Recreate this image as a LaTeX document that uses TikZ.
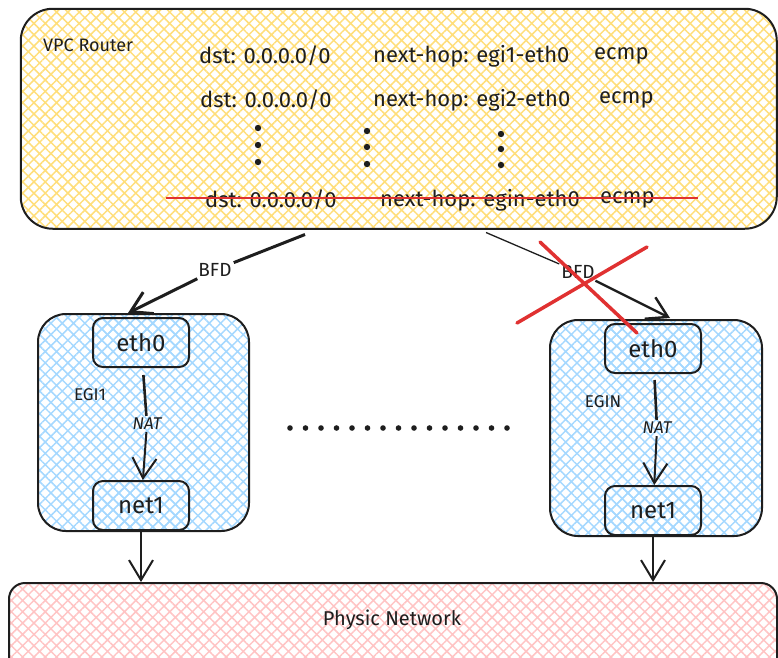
\documentclass[tikz,border=0pt]{standalone}
\usepackage{fontspec}
\setmainfont{Fira Sans}
\usetikzlibrary{arrows.meta,patterns.meta,calc}
\definecolor{ink}{HTML}{1E1E1E}
\definecolor{hyel}{HTML}{FFDE7A}
\definecolor{hblue}{HTML}{A5D8FF}
\definecolor{hred}{HTML}{FFC4C4}
\definecolor{xred}{HTML}{E03131}
\begin{document}
\begin{tikzpicture}[x=1pt,y=-1pt,
  outline/.style={draw=ink,line width=2pt},
  yelbox/.style={outline,rounded corners=32pt,pattern={Hatch[angle=45,distance=8pt,line width=1.5pt]},pattern color=hyel},
  bluebox/.style={outline,rounded corners=28pt,pattern={Hatch[angle=45,distance=8pt,line width=1.5pt]},pattern color=hblue},
  redbox/.style={outline,rounded corners=16pt,pattern={Hatch[angle=45,distance=8pt,line width=1.5pt]},pattern color=hred},
  port/.style={outline,rounded corners=10pt,pattern={Hatch[angle=45,distance=8pt,line width=1.5pt]},pattern color=hblue,
    minimum width=96pt,minimum height=49pt,inner sep=0pt,anchor=north west,text=ink,font=\fontsize{24}{26}\selectfont},
  rowtxt/.style={text=ink,font=\fontsize{22}{25}\selectfont,inner sep=0pt,anchor=west},
  lbl/.style={text=ink,font=\fontsize{19}{21}\selectfont,inner sep=2pt},
  small/.style={text=ink,font=\fontsize{17}{19}\selectfont,inner sep=2pt},
  barb/.style={-{Straight Barb[length=20pt,width=24pt]}},
  conn/.style={draw=ink,line width=2pt},
  strike/.style={draw=xred,line width=2pt},
  cross/.style={draw=xred,line width=3.5pt,line cap=round},
  dot/.style={fill=ink}
]
\useasboundingbox (0,0) rectangle (778,657);
\clip (0,0) rectangle (778,657);

% VPC router
\node[yelbox,minimum width=756pt,minimum height=220pt,anchor=north west] (router) at (20,8) {};
\node[rowtxt,font=\fontsize{18}{20}\selectfont] (title) at (43,45) {VPC Router};
\node[rowtxt] (r1a) at (199,56) {dst: 0.0.0.0/0};
\node[rowtxt] (r1b) at (373,56) {next-hop: egi1-eth0};
\node[rowtxt] (r1c) at (594,56) {ecmp};
\node[rowtxt] (r2a) at (200,100) {dst: 0.0.0.0/0};
\node[rowtxt] (r2b) at (373,100) {next-hop: egi2-eth0};
\node[rowtxt] (r2c) at (599,100) {ecmp};
\node[rowtxt] (r3a) at (205,200) {dst: 0.0.0.0/0};
\node[rowtxt] (r3b) at (380,200) {next-hop: egin-eth0};
\node[rowtxt] (r3c) at (600,200) {ecmp};
\draw[strike] ($(r3a.west)+(-39,-2)$) -- ($(r3c.east)+(43,-2)$);
\foreach \x/\y in {258/128,258/145,258/162,367/131,367/147,367/164,501/134,501/149,501/165}
  \fill[dot] (\x,\y) circle (3.2pt);

% EGI1
\node[bluebox,minimum width=211pt,minimum height=217pt,anchor=north west] (egi1) at (37,313) {};
\node[port] (e1eth) at (92,317) {eth0};
\node[port] (e1net) at (92,480) {net1};
\node[small] (e1lbl) at (90,395) {EGI1};
\node[small] (nat1) at (147,424) {\itshape NAT};
\draw[conn,line width=2.6pt,shorten <=7pt] (e1eth) -- (nat1);
\draw[conn,barb] (nat1) -- (e1net);

% EGIN
\node[bluebox,minimum width=212pt,minimum height=216pt,anchor=north west] (egin) at (549,319) {};
\node[port] (e2eth) at (604,323) {eth0};
\node[port] (e2net) at (604,485) {net1};
\node[small] (e2lbl) at (603,402) {EGIN};
\node[small] (nat2) at (657,428) {\itshape NAT};
\draw[conn,line width=2.6pt,shorten <=6pt] (e2eth) -- (nat2);
\draw[conn,barb] (nat2) -- (e2net);

% BFD connectors
\node[lbl] (bfd1) at (215,270) {BFD};
\draw[conn,line width=3pt] ($(router.south west)+(285,5)$) -- (bfd1);
\draw[conn,line width=3pt,barb] (bfd1) -- ($(egi1.north west)+(91,0)$);
\node[lbl] (bfd2) at (578,272) {BFD};
\draw[conn,line width=1.3pt] ($(router.south west)+(466,3)$) -- (bfd2);
\draw[conn,line width=2.4pt,barb] (bfd2) -- ($(egin.north west)+(121,-1)$);
\draw[cross] (540,242) -- (637,333);
\draw[cross] (517,323) -- (647,247);

% ellipsis between the gateways
\foreach \i in {0,...,14}
  \fill[dot] (290+15.5*\i,428) circle (2.8pt);

% Physic network
\node[redbox,minimum width=768pt,minimum height=110pt,anchor=north west] (phys) at (8,582) {};
\node[lbl,font=\fontsize{20}{22}\selectfont] (physlbl) at (392,620) {Physic Network};
\draw[conn,barb] (e1net.south) -- (e1net.south |- phys.north);
\draw[conn,barb] (e2net.south) -- (e2net.south |- phys.north);
\end{tikzpicture}
\end{document}
